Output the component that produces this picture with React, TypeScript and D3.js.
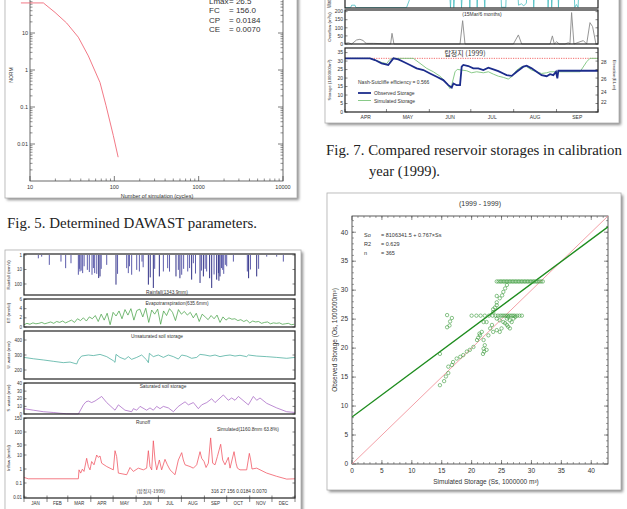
import React from 'react';
import * as d3 from 'd3';

const SANS = "'Liberation Sans', Arial, sans-serif";
const SERIF = "'Liberation Serif', 'DejaVu Serif', serif";
const KR = "'Noto Sans CJK KR', 'Liberation Sans', sans-serif";

// ---------------- Fig 5: DAWAST parameter search ----------------
const normCycles = [7.8, 14.4, 19.8, 27.2, 37.4, 49.2, 67.6, 79.8, 97.3, 111];
const normValues = [65, 65, 36, 18.6, 7.7, 2.4, 0.46, 0.108, 0.0168, 0.0044];
const paramNames = ['Lmax', 'FC', 'CP', 'CE'];
const paramValues = ['26.5', '156.0', '0.0184', '0.0070'];
const normXTicks = [10, 100, 1000, 10000];
const normYTicks = [100, 10, 1, 0.1, 0.01];
const normYLabels = [10, 1, 0.1, 0.01];

// ---------------- Fig 6: daily water balance 1999 ----------------
const monthNames = ['JAN', 'FEB', 'MAR', 'APR', 'MAY', 'JUN', 'JUL', 'AUG', 'SEP', 'OCT', 'NOV', 'DEC'];
const monthStarts = [0, 31, 59, 90, 120, 151, 181, 212, 243, 273, 304, 334, 365];

const rainDay = [19.3, 23.8, 34.1, 49.8, 56.1, 63.3, 73.2, 74.5, 75.4, 77, 79, 81, 85.3, 88, 91.6, 93.5, 95.2, 98, 100.6, 102.4, 104, 111.4, 123.9, 126, 138.3, 140.5, 142, 145, 151.8, 155.4, 158.9, 160.5, 167.5, 170, 174.2, 176, 182.3, 187.7, 193.5, 196, 204.7, 207.9, 210, 212.4, 215, 220.5, 223, 225.8, 228.1, 231, 237.1, 239, 241.6, 244, 246, 250, 252.8, 256, 259.5, 261.8, 262.5, 264, 266, 267.6, 269, 271.2, 273, 282, 300.8, 302.5, 305, 313.4, 316, 326.9, 340.3, 349.3];
const rainMm = [1.7, 1.3, 4.8, 2.85, 8.1, 3.7, 23, 9, 13.7, 12, 17.8, 6, 10.6, 15, 23, 8, 17.8, 20, 39, 30, 9, 4.8, 111, 20, 8.1, 17.8, 6, 23, 10.6, 13.7, 2.85, 7, 111, 35, 188, 9, 30, 13.7, 8.1, 14, 30, 10.6, 40, 23, 9, 13.7, 8, 50, 3.7, 19, 85, 12, 30, 9, 13.7, 40, 188, 22, 50, 17.8, 60, 30, 8, 10.6, 20, 4.8, 6, 2.85, 13.7, 40, 10, 30, 9, 1.3, 1.3, 2.85];

const etValues = [0.5, 0.8, 0.6, 0.9, 0.7, 0.8, 1.0, 0.7, 0.9, 1.1, 0.8, 1.2, 1.0, 1.3, 0.9, 1.2, 1.5, 1.0, 1.8, 1.4, 2.0, 1.3, 2.2, 1.8, 2.5, 1.2, 2.8, 1.5, 3.0, 0.5, 3.2, 2.4, 3.5, 1.8, 3.8, 2.6, 4.0, 1.5, 3.6, 3.9, 2.2, 4.1, 1.0, 3.7, 2.8, 3.9, 0.6, 3.5, 2.5, 4.0, 3.2, 1.4, 3.8, 2.8, 3.4, 2.6, 3.2, 2.0, 3.0, 1.2, 2.8, 2.2, 1.6, 2.5, 1.8, 2.6, 1.0, 2.2, 1.5, 2.0, 1.7, 1.8, 1.4, 1.6, 1.2, 1.5, 0.9, 1.3, 1.1, 1.2, 0.8, 1.0, 1.1, 0.7, 0.9, 0.8, 0.9, 0.6, 0.7, 0.8, 0.5, 0.6];

const unsatDay = [0, 12.6, 26, 39.5, 53, 62, 71, 73.2, 77.6, 86.7, 93.4, 102.4, 111.4, 120.3, 122.6, 123.9, 129.3, 136, 140.5, 145, 151.8, 158.5, 165.2, 167.5, 168.9, 174.2, 180.9, 187.7, 194.4, 201.2, 207.9, 212.4, 219.1, 225.8, 232.6, 237.1, 243.8, 250.6, 257.3, 264, 270.8, 277.5, 284.2, 290.9, 299.9, 302.2, 313.4, 326.9, 340.3, 353.8, 365];
const unsatVal = [284, 275, 267, 258, 249, 253, 240, 267, 293, 300, 296, 304, 289, 262, 251, 304, 284, 271, 289, 271, 284, 300, 267, 249, 311, 289, 300, 284, 300, 289, 273, 300, 293, 278, 284, 304, 300, 293, 300, 289, 296, 300, 293, 298, 289, 300, 293, 289, 284, 278, 284];

const satDay = [0, 12.6, 26, 39.5, 48.5, 57.5, 73.2, 80, 83.5, 86.7, 91.1, 95.6, 104.6, 111.4, 122.6, 127.1, 136, 145, 147.3, 151.8, 156.3, 165.2, 169.7, 174.2, 178.7, 183.2, 187.7, 194.4, 201.2, 207.9, 216.9, 221.4, 228.1, 234.8, 239.3, 246.1, 252.8, 257.3, 268.5, 275.2, 279.7, 284.2, 288.7, 302.2, 308.9, 313.4, 317.9, 326.9, 340.3, 353.8, 365];
const satVal = [7, 5, 3, 2, 1, 0.3, 0, 12, 16, 17, 15, 17, 23, 15, 5, 12, 5, 3, 7, 5, 10, 5, 8, 5, 10, 7, 10, 8, 3, 10, 16, 12, 15, 7, 12, 15, 20, 15, 25, 18, 21, 18, 23, 12, 23, 18, 21, 14, 8, 3, 2];

const runoffDay = [0, 5.8, 73.2, 74.1, 76.3, 78.6, 80.8, 84.4, 86.7, 88.9, 91.1, 94.3, 97.9, 100.1, 102.4, 104.6, 111.4, 120.3, 122.6, 124.8, 127.1, 138.3, 142.8, 147.3, 154, 160.7, 165.2, 167.5, 169.7, 172, 174.2, 176.5, 178.7, 182.3, 185.4, 189.9, 193.1, 196.7, 203.4, 207.9, 212.4, 214.6, 216.9, 223.6, 228.1, 232.6, 237.1, 239.3, 242.5, 245.2, 248.3, 251.4, 254.1, 257.3, 260.4, 264.9, 267.6, 270.7, 275.2, 277.5, 282.9, 285.6, 287.4, 290.9, 299.9, 303.5, 305.3, 307.1, 313.4, 326.9, 340.3, 353.8, 365];
const runoffVal = [0.25, 0.2, 0.2, 0.87, 0.51, 0.97, 0.67, 5.8, 1.5, 0.87, 3.4, 2.0, 10, 6.8, 8.5, 2.6, 1.5, 0.87, 20, 7.6, 0.51, 0.39, 1.28, 0.67, 1.15, 0.87, 1.15, 20, 1.5, 0.87, 62.6, 4.4, 0.87, 4.4, 0.87, 4.9, 2.0, 0.87, 0.39, 4.4, 14.6, 4.4, 2.0, 1.5, 1.15, 2.0, 17.1, 5.8, 3.4, 1.28, 2.6, 73, 2.6, 2.0, 7.6, 52, 4.4, 2.0, 6.8, 1.15, 17.1, 2.6, 1.15, 0.87, 0.87, 13, 4.4, 1.0, 1.15, 0.51, 0.3, 0.19, 0.2];

const rainTicks = [1, 10, 100];
const etTicks = [0, 2, 4, 6];
const unsatTicks = [200, 300, 400];
const satTicks = [0, 10, 20, 30, 40];
const runoffTicks = [0.01, 0.1, 1, 10, 50, 100, 150];

// ---------------- Fig 7: reservoir storage Apr–Sep 1999 ----------------
const resMonths = ['APR', 'MAY', 'JUN', 'JUL', 'AUG', 'SEP'];
const resMonthStarts = [0, 30, 61, 91, 122, 153, 183];

const levelDay = [0, 4.1, 4.8, 7.2, 7.9, 44.5, 48.2, 54.2, 74.6, 76.3, 77.8, 78.7, 80.7, 83.1, 84.3, 86, 89.1, 90.3, 91.5, 94.6, 95.6, 97, 99.4, 101.1, 102.3, 112, 113.2, 116.3, 117.3, 124, 125.5, 127.6, 129.3, 131.2, 132.4, 135.6, 136.5, 138, 145.7, 146.9, 148.6, 149.5, 151.2, 153.4, 154.4, 155.3, 165, 166.2, 167.4, 168.6, 169.8, 183];
const levelVal = [0.5, 0.5, 4, 4, 0.5, 0.5, 20, 60, 60, 0.5, 60, 0.5, 60, 60, 0.5, 60, 60, 0.5, 60, 60, 1, 60, 60, 1, 60, 60, 1, 1, 60, 60, 4, 6, 3, 7, 60, 60, 1, 60, 60, 1, 60, 1, 60, 60, 1, 60, 60, 1, 5, 1, 60, 60];

const overflowDay = [0, 2.4, 4.8, 8.4, 10.8, 13.3, 14.5, 15.7, 20.5, 33, 34, 35.4, 83.2, 85.1, 86.8, 121.8, 125.4, 127.8, 148.3, 150, 151.4, 153.1, 155, 159.1, 161.5, 162.7, 163.9, 165.6, 170, 172.4, 174.8, 177.2, 179.1, 181.5, 183];
const overflowVal = [4, 8, 0, 25, 29, 21, 8, 4, 4, 0, 66, 0, 0, 144, 0, 0, 56, 0, 0, 50, 0, 14, 0, 0, 8, 0, 194, 0, 14, 21, 0, 132, 107, 0, 0];

const obsDay = [0, 18.1, 21.7, 26.5, 31.3, 35, 38.6, 42.2, 47, 51.8, 56.7, 61.5, 66.3, 71.1, 74.7, 77.2, 78.4, 80.8, 83.2, 84.4, 85.6, 89.2, 92.8, 96.4, 100.1, 103.7, 107.3, 110.9, 114.5, 116.9, 120.6, 124.2, 129, 131.4, 135, 138.6, 142.2, 145.9, 148.3, 150.7, 152.6, 153.6, 154.3, 157.9, 183];
const obsStorage = [31.6, 31.6, 30.6, 28.7, 27.7, 31.6, 31.0, 29.6, 27.7, 25.7, 24.7, 22.7, 20.8, 18.8, 15.8, 14.4, 16.8, 15.8, 15.8, 26.7, 27.7, 27.1, 25.7, 25.7, 24.7, 26.1, 25.1, 24.1, 22.7, 21.7, 21.3, 23.7, 26.7, 27.3, 25.7, 23.7, 21.7, 21.1, 22.3, 21.7, 23.7, 19.8, 24.3, 24.3, 24.3];
const simDay = [0, 18.1, 21.7, 26.5, 30.1, 32.5, 35, 49.4, 54.2, 59.1, 63.9, 68.7, 73.5, 75.9, 77.2, 79.6, 81.2, 84.4, 88, 91.6, 95.2, 100.1, 103.7, 107.3, 110.9, 114.5, 118.1, 120.6, 124.2, 127.8, 131.4, 135, 138.6, 142.2, 145.9, 148.3, 170, 174.8, 177.2, 183];
const simStorage = [31.6, 31.6, 30.6, 29.2, 28.5, 31.0, 31.6, 31.6, 28.7, 25.7, 23.7, 21.1, 17.2, 13.8, 15.8, 23.7, 25.1, 24.7, 24.3, 23.1, 23.7, 23.1, 23.7, 22.3, 21.1, 20.4, 19.4, 20.8, 24.7, 26.7, 26.7, 24.7, 23.7, 22.7, 23.1, 23.7, 23.7, 29.6, 31.6, 31.6];
const fullStorage = 31.6;
const nashSutcliffe = '0.566';
const overflowTicks = [0, 50, 100, 150, 200];
const storageTicks = [0, 5, 10, 15, 20, 25, 30, 35];
const elevationTicks = [22, 24, 26, 28];

// ---------------- Fig 8: observed vs simulated storage ----------------
const ssValues = [
  24.2, 24.5, 24.8, 25.0, 25.3, 25.5, 25.8, 26.0, 26.3, 26.5, 26.8, 27.0, 27.3, 27.5, 27.8, 28.0, 28.3, 28.5, 28.8, 29.0, 29.3, 29.5, 29.8, 30.0, 30.3, 30.5, 30.8, 31.0, 31.3, 31.6, 31.9,
  20.0, 20.8, 21.5, 22.2, 22.9, 23.5, 24.0, 24.4, 24.8, 25.1, 25.4, 25.7, 26.0, 26.3, 26.6, 26.9, 27.2, 27.6, 28.0, 28.4,
  25.9, 25.6, 25.3, 25.1, 24.7, 24.2, 24.2, 23.9, 23.6, 23.6, 24.2,
  22.0, 22.5, 23.4, 23.1, 24.2, 24.7, 25.3, 25.6, 25.9, 26.1, 26.4, 25.9, 26.4, 27.0, 27.3, 26.7, 26.1, 25.0, 24.7, 24.2, 23.6, 22.8, 21.7, 21.4, 21.1, 20.9, 21.3, 22.0, 22.2, 22.0, 22.1, 21.9, 22.5, 20.3, 19.7, 19.2, 18.6, 18.1, 17.5, 16.9, 16.7, 16.1, 14.7,
  14.7, 15.4, 15.7, 16.1, 15.9, 16.7, 16.4, 15.9, 16.3
];
const soValues = [
  31.5, 31.5, 31.5, 31.5, 31.5, 31.5, 31.5, 31.5, 31.5, 31.5, 31.5, 31.5, 31.5, 31.5, 31.5, 31.5, 31.5, 31.5, 31.5, 31.5, 31.5, 31.5, 31.5, 31.5, 31.5, 31.5, 31.5, 31.5, 31.5, 31.5, 31.5,
  25.6, 25.6, 25.6, 25.6, 25.6, 25.6, 25.6, 25.6, 25.6, 25.6, 25.6, 25.6, 25.6, 25.6, 25.6, 25.6, 25.6, 25.6, 25.6, 25.6,
  30.9, 30.3, 29.7, 29.1, 28.6, 27.9, 27.4, 27.0, 26.7, 26.2, 29.0,
  24.5, 24.5, 24.0, 23.4, 25.1, 24.8, 24.5, 24.3, 24.0, 23.7, 23.4, 25.1, 24.8, 25.1, 25.4, 24.5, 25.4, 23.4, 22.8, 23.1, 22.8, 22.2, 22.8, 22.2, 21.8, 21.4, 22.5, 21.4, 20.5, 19.9, 19.4, 19.0, 19.7, 20.2, 19.7, 19.4, 18.8, 18.5, 18.2, 17.6, 17.1, 16.8, 19.0,
  13.6, 14.3, 15.1, 15.7, 25.7, 25.2, 24.6, 23.6, 23.9
];
const regIntercept = 8.1063415;
const regSlope = 0.767;
const scatterTicks = [0, 5, 10, 15, 20, 25, 30, 35, 40];

function Frame({ x, y, w, h }: { x: number; y: number; w: number; h: number }) {
  return (
    <g>
      <rect x={x + 2} y={y + 2} width={w} height={h} fill="#8c8c8c" filter="url(#shadowBlur)" />
      <rect x={x} y={y} width={w} height={h} fill="#fff" stroke="#b0b0b0" strokeWidth={0.8} />
    </g>
  );
}

function decadeMinors(lo: number, hi: number) {
  const out: number[] = [];
  for (let d = lo; d < hi; d *= 10) for (let k = 2; k <= 9; k++) out.push(d * k);
  return out;
}

function Fig5() {
  const x = d3.scaleLog().domain([10, 10000]).range([30, 283]);
  const y = d3.scaleLog().domain([0.001, 100]).range([181, -4]);
  const line = d3.line<number>().x((_, i) => x(normCycles[i])).y((d) => y(d));
  const xMinor = decadeMinors(10, 10000);
  const yMinor = decadeMinors(0.001, 100);
  return (
    <g>
      <Frame x={5} y={-10} w={292} h={208} />
      <rect x={30} y={-4} width={253} height={185} fill="none" stroke="#444" strokeWidth={0.8} />
      {normXTicks.map((t) => (
        <g key={'x' + t}>
          <line x1={x(t)} x2={x(t)} y1={181} y2={176} stroke="#444" strokeWidth={0.7} />
          <text x={x(t)} y={189} fontSize={5.5} fontFamily={SANS} textAnchor="middle" fill="#333">{t}</text>
        </g>
      ))}
      {xMinor.map((t) => (
        <line key={'xm' + t} x1={x(t)} x2={x(t)} y1={181} y2={178.5} stroke="#444" strokeWidth={0.6} />
      ))}
      {normYTicks.map((t) => (
        <g key={'y' + t}>
          <line x1={30} x2={35} y1={y(t)} y2={y(t)} stroke="#444" strokeWidth={0.7} />
          <line x1={283} x2={278} y1={y(t)} y2={y(t)} stroke="#444" strokeWidth={0.7} />
        </g>
      ))}
      {normYLabels.map((t) => (
        <text key={'yl' + t} x={28} y={y(t) + 2} fontSize={5.5} fontFamily={SANS} textAnchor="end" fill="#333">{t}</text>
      ))}
      {yMinor.map((t) => (
        <g key={'ym' + t}>
          <line x1={30} x2={32.5} y1={y(t)} y2={y(t)} stroke="#444" strokeWidth={0.6} />
          <line x1={283} x2={280.5} y1={y(t)} y2={y(t)} stroke="#444" strokeWidth={0.6} />
        </g>
      ))}
      <text x={157} y={198} fontSize={5.5} fontFamily={SANS} textAnchor="middle" fill="#333">Number of simulation (cycles)</text>
      <text transform="translate(13,75) rotate(-90)" fontSize={5} fontFamily={SANS} textAnchor="middle" fill="#333">NORM</text>
      <path d={line(normValues) || ''} fill="none" stroke="#f06a78" strokeWidth={0.9} />
      {paramNames.map((n, i) => (
        <g key={n}>
          <text x={209} y={4 + i * 9.3} fontSize={8} fontFamily={SANS} fill="#333">{n}</text>
          <text x={229} y={4 + i * 9.3} fontSize={8} fontFamily={SANS} fill="#333">{'= ' + paramValues[i]}</text>
        </g>
      ))}
    </g>
  );
}

function PanelBox({ x0, x1, y0, y1 }: any) {
  return <rect x={x0} y={y0} width={x1 - x0} height={y1 - y0} fill="none" stroke="#222" strokeWidth={1.2} />;
}

function YTicks({ scale, ticks, x0, x1, fs, fmt }: any) {
  return (
    <g>
      {ticks.map((t: number) => (
        <g key={t}>
          <line x1={x0} x2={x0 + 2.5} y1={scale(t)} y2={scale(t)} stroke="#333" strokeWidth={0.6} />
          <line x1={x1} x2={x1 - 2.5} y1={scale(t)} y2={scale(t)} stroke="#333" strokeWidth={0.6} />
          <text x={x0 - 2} y={scale(t) + fs * 0.35} fontSize={fs} fontFamily={SANS} textAnchor="end" fill="#333">{fmt ? fmt(t) : t}</text>
        </g>
      ))}
    </g>
  );
}

function Fig6() {
  const x0 = 24, x1 = 295;
  const x = d3.scaleLinear().domain([0, 365]).range([x0, x1]);
  const rainY = d3.scaleLog().domain([1, 575]).range([255, 295]);
  const etY = d3.scaleLinear().domain([0, 6]).range([327, 299.5]);
  const unY = d3.scaleLinear().domain([140, 460]).range([379, 331]);
  const satY = d3.scaleLinear().domain([0, 40]).range([414, 383.5]);
  const roY = d3.scaleLog().domain([0.01, 0.1, 1, 10, 50, 100, 150]).range([497, 483, 469, 455, 445, 432, 418.5]);
  const etLine = d3.line<number>().x((_, i) => x(i * 4)).y((d) => etY(d));
  const unLine = d3.line<number>().x((_, i) => x(unsatDay[i])).y((d) => unY(d));
  const satLine = d3.line<number>().x((_, i) => x(satDay[i])).y((d) => satY(d));
  const roLine = d3.line<number>().x((_, i) => x(runoffDay[i])).y((d) => roY(d));
  const fs = 4.5;
  const title = (t: string, cy: number) => (
    <text transform={`translate(10,${cy}) rotate(-90)`} fontSize={4.3} fontFamily={SANS} textAnchor="middle" fill="#333">{t}</text>
  );
  const cap = (t: string, cx: number, cy: number) => (
    <text x={cx} y={cy} fontSize={4.8} fontFamily={SANS} textAnchor="middle" fill="#333">{t}</text>
  );
  return (
    <g>
      <Frame x={5} y={250} w={296} h={270} />
      {rainDay.map((d, i) => (
        <line key={'r' + i} x1={x(d)} x2={x(d)} y1={rainY(1)} y2={rainY(rainMm[i])} stroke={rainMm[i] > 25 ? '#1a1a78' : '#4a4aa2'} strokeWidth={0.9} />
      ))}
      <PanelBox x0={x0} x1={x1} y0={254} y1={295} />
      <YTicks scale={rainY} ticks={rainTicks} x0={x0} x1={x1} fs={fs} />
      {title('Rainfall (mm/d)', 275)}
      {cap('Rainfall(1343.9mm)', 167, 294)}
      <path d={etLine(etValues) || ''} fill="none" stroke="#3c9c3c" strokeWidth={0.7} />
      <PanelBox x0={x0} x1={x1} y0={299} y1={327} />
      <YTicks scale={etY} ticks={etTicks} x0={x0} x1={x1} fs={fs} />
      {title('ET (mm/d)', 313)}
      {cap('Evapotranspiration(635.6mm)', 177, 305)}
      <path d={unLine(unsatVal) || ''} fill="none" stroke="#3aa594" strokeWidth={0.7} />
      <PanelBox x0={x0} x1={x1} y0={331} y1={379} />
      <YTicks scale={unY} ticks={unsatTicks} x0={x0} x1={x1} fs={fs} />
      {title('U. water (mm)', 355)}
      {cap('Unsaturated soil storage', 157, 338)}
      <path d={satLine(satVal) || ''} fill="none" stroke="#a05cc0" strokeWidth={0.7} />
      <PanelBox x0={x0} x1={x1} y0={383} y1={414} />
      <YTicks scale={satY} ticks={satTicks} x0={x0} x1={x1} fs={fs} />
      {title('S. water (mm)', 398)}
      {cap('Saturated soil storage', 163, 388)}
      <path d={roLine(runoffVal) || ''} fill="none" stroke="#f0505e" strokeWidth={0.75} />
      <PanelBox x0={x0} x1={x1} y0={418} y1={498} />
      <YTicks scale={roY} ticks={runoffTicks} x0={x0} x1={x1} fs={fs} />
      {title('Inflow (mm/d)', 458)}
      {cap('Runoff', 143, 424)}
      {cap('Simulated(1160.8mm 63.8%)', 248, 431)}
      <text x={151} y={493} fontSize={4.8} fontFamily={KR} textAnchor="middle" fill="#333">(탑정지-1999)</text>
      {cap('316  27  156  0.0184  0.0070', 239, 493)}
      {monthStarts.map((m) => (
        <g key={'mt' + m}>
          <line x1={x(m)} x2={x(m)} y1={498} y2={502} stroke="#333" strokeWidth={0.6} />
          <line x1={x(m)} x2={x(m)} y1={498} y2={495.5} stroke="#333" strokeWidth={0.6} />
        </g>
      ))}
      {monthNames.map((n, i) => (
        <text key={n} x={x((monthStarts[i] + monthStarts[i + 1]) / 2)} y={505} fontSize={4.5} fontFamily={SANS} textAnchor="middle" fill="#333">{n}</text>
      ))}
    </g>
  );
}

function Fig7() {
  const x0 = 345, x1 = 598;
  const x = d3.scaleLinear().domain([0, 183]).range([x0, x1]);
  const lvY = d3.scaleLinear().domain([0, 40]).range([8, -20]);
  const ofY = d3.scaleLinear().domain([0, 210]).range([44, 10]);
  const stY = d3.scaleLinear().domain([0, 37.7]).range([112, 48]);
  const elY = d3.scaleLinear().domain([22, 24, 26, 28]).range([102, 92, 79, 62]);
  const lvLine = d3.line<number>().x((_, i) => x(levelDay[i])).y((d) => lvY(d));
  const ofLine = d3.line<number>().x((_, i) => x(overflowDay[i])).y((d) => ofY(d));
  const obsLine = d3.line<number>().x((_, i) => x(obsDay[i])).y((d) => stY(d));
  const simLine = d3.line<number>().x((_, i) => x(simDay[i])).y((d) => stY(d));
  const fs = 5;
  return (
    <g>
      <Frame x={325} y={-10} w={294} h={133} />
      <clipPath id="lvClip"><rect x={x0} y={-20} width={x1 - x0} height={28} /></clipPath>
      <path d={lvLine(levelVal) || ''} fill="none" stroke="#48bcc0" strokeWidth={0.8} clipPath="url(#lvClip)" />
      <PanelBox x0={x0} x1={x1} y0={-20} y1={8} />
      <text transform="translate(331,8) rotate(-90)" fontSize={4.5} fontFamily={SANS} fill="#333">Water level (EL.m)</text>
      <path d={ofLine(overflowVal) || ''} fill="none" stroke="#8a8a8a" strokeWidth={0.9} />
      <PanelBox x0={x0} x1={x1} y0={10} y1={44} />
      <YTicks scale={ofY} ticks={overflowTicks} x0={x0} x1={x1} fs={fs} />
      <text transform="translate(331,27) rotate(-90)" fontSize={4.3} fontFamily={SANS} textAnchor="middle" fill="#333">Overflow (m³/s)</text>
      <text x={482} y={16} fontSize={5} fontFamily={SANS} textAnchor="middle" fill="#333">(15Mar/6 months)</text>
      <line x1={x0} x2={x1} y1={stY(fullStorage)} y2={stY(fullStorage)} stroke="#f04848" strokeWidth={0.8} strokeDasharray="1.2,1.2" />
      <path d={simLine(simStorage) || ''} fill="none" stroke="#7cc47c" strokeWidth={0.9} />
      <path d={obsLine(obsStorage) || ''} fill="none" stroke="#1c2c8c" strokeWidth={1.8} />
      <PanelBox x0={x0} x1={x1} y0={48} y1={112} />
      <YTicks scale={stY} ticks={storageTicks} x0={x0} x1={x1} fs={fs} />
      {elevationTicks.map((t) => (
        <text key={'el' + t} x={601} y={elY(t) + 1.8} fontSize={fs} fontFamily={SANS} fill="#333">{t}</text>
      ))}
      <text transform="translate(331,80) rotate(-90)" fontSize={4.3} fontFamily={SANS} textAnchor="middle" fill="#333">Storage (1000000m³)</text>
      <text transform="translate(613,75) rotate(90)" fontSize={4.3} fontFamily={SANS} textAnchor="middle" fill="#333">Elevation(EL.m)</text>
      <text x={465} y={56} fontSize={7} fontFamily={KR} textAnchor="middle" fill="#333">탑정지 (1999)</text>
      <text x={358} y={84} fontSize={5} fontFamily={SANS} fill="#333">{'Nash-Sutcliffe efficiency = ' + nashSutcliffe}</text>
      <line x1={358} x2={371} y1={93} y2={93} stroke="#1c2c8c" strokeWidth={1.8} />
      <text x={374} y={95} fontSize={5} fontFamily={SANS} fill="#333">Observed Storage</text>
      <line x1={358} x2={371} y1={100.5} y2={100.5} stroke="#7cc47c" strokeWidth={0.9} />
      <text x={374} y={102.5} fontSize={5} fontFamily={SANS} fill="#333">Simulated Storage</text>
      {resMonthStarts.map((m) => (
        <line key={'rm' + m} x1={x(m)} x2={x(m)} y1={112} y2={109} stroke="#333" strokeWidth={0.6} />
      ))}
      {resMonths.map((n, i) => (
        <text key={n} x={x((resMonthStarts[i] + resMonthStarts[i + 1]) / 2)} y={119} fontSize={5} fontFamily={SANS} textAnchor="middle" fill="#333">{n}</text>
      ))}
    </g>
  );
}

function Fig8() {
  const px0 = 352, px1 = 608, py0 = 216, py1 = 464;
  const x = d3.scaleLinear().domain([0, 42.8]).range([px0, px1]);
  const y = d3.scaleLinear().domain([0, 42.8]).range([py1, py0]);
  const minor = d3.range(1, 43);
  const fs = 6.5;
  return (
    <g>
      <Frame x={327} y={193} w={294} h={297} />
      <text x={480} y={206} fontSize={7} fontFamily={SANS} textAnchor="middle" fill="#333">(1999 - 1999)</text>
      <clipPath id="scClip"><rect x={px0} y={py0} width={px1 - px0} height={py1 - py0} /></clipPath>
      <rect x={px0} y={py0} width={px1 - px0} height={py1 - py0} fill="none" stroke="#333" strokeWidth={0.8} />
      {minor.map((t) => (
        <g key={'mn' + t}>
          <line x1={x(t)} x2={x(t)} y1={py1} y2={py1 - 2} stroke="#444" strokeWidth={0.5} />
          <line x1={x(t)} x2={x(t)} y1={py0} y2={py0 + 2} stroke="#444" strokeWidth={0.5} />
          <line x1={px0} x2={px0 + 2} y1={y(t)} y2={y(t)} stroke="#444" strokeWidth={0.5} />
          <line x1={px1} x2={px1 - 2} y1={y(t)} y2={y(t)} stroke="#444" strokeWidth={0.5} />
        </g>
      ))}
      {scatterTicks.map((t) => (
        <g key={'mj' + t}>
          <line x1={x(t)} x2={x(t)} y1={py1} y2={py1 - 4} stroke="#444" strokeWidth={0.6} />
          <line x1={x(t)} x2={x(t)} y1={py0} y2={py0 + 4} stroke="#444" strokeWidth={0.6} />
          <line x1={px0} x2={px0 + 4} y1={y(t)} y2={y(t)} stroke="#444" strokeWidth={0.6} />
          <line x1={px1} x2={px1 - 4} y1={y(t)} y2={y(t)} stroke="#444" strokeWidth={0.6} />
          <text x={x(t)} y={py1 + 9} fontSize={fs} fontFamily={SANS} textAnchor="middle" fill="#333">{t}</text>
          <text x={px0 - 4} y={y(t) + 2.3} fontSize={fs} fontFamily={SANS} textAnchor="end" fill="#333">{t}</text>
        </g>
      ))}
      <g clipPath="url(#scClip)">
        <line x1={x(0)} y1={y(0)} x2={x(42.8)} y2={y(42.8)} stroke="#f08890" strokeWidth={0.8} />
        <line x1={x(0)} y1={y(regIntercept)} x2={x(42.8)} y2={y(regIntercept + regSlope * 42.8)} stroke="#1e8c1e" strokeWidth={1.4} />
        {ssValues.map((s, i) => (
          <circle key={'p' + i} cx={x(s)} cy={y(soValues[i])} r={1.7} fill="none" stroke="#3a9a3a" strokeWidth={0.6} />
        ))}
      </g>
      <text x={364} y={237} fontSize={5.5} fontFamily={SANS} fill="#333">So</text>
      <text x={381} y={237} fontSize={5.5} fontFamily={SANS} fill="#333">{'= 8106341.5 + 0.767×Ss'}</text>
      <text x={364} y={246} fontSize={5.5} fontFamily={SANS} fill="#333">R2</text>
      <text x={381} y={246} fontSize={5.5} fontFamily={SANS} fill="#333">= 0.629</text>
      <text x={364} y={255} fontSize={5.5} fontFamily={SANS} fill="#333">n</text>
      <text x={381} y={255} fontSize={5.5} fontFamily={SANS} fill="#333">= 365</text>
      <text x={486} y={484} fontSize={6.5} fontFamily={SANS} textAnchor="middle" fill="#333">Simulated Storage (Ss, 1000000 m³)</text>
      <text transform="translate(337,340) rotate(-90)" fontSize={6.5} fontFamily={SANS} textAnchor="middle" fill="#333">Observed Storage (Os, 1000000m³)</text>
    </g>
  );
}

export default function App() {
  return (
    <svg width={627} height={509} style={{ position: 'absolute', left: 0, top: 0, background: '#fff' }}>
      <defs>
        <filter id="shadowBlur" x="-5%" y="-5%" width="110%" height="110%">
          <feGaussianBlur stdDeviation={1.5} />
        </filter>
      </defs>
      <rect x={0} y={0} width={627} height={509} fill="#fff" />
      <Fig5 />
      <text x={7} y={228} fontSize={15} fontFamily={SERIF} fill="#222" textLength={250} lengthAdjust="spacingAndGlyphs">Fig. 5. Determined DAWAST parameters.</text>
      <Fig6 />
      <Fig7 />
      <text x={326} y={155} fontSize={15} fontFamily={SERIF} fill="#222" textLength={296} lengthAdjust="spacingAndGlyphs">Fig. 7. Compared reservoir storages in calibration</text>
      <text x={369} y={176} fontSize={15} fontFamily={SERIF} fill="#222" textLength={71} lengthAdjust="spacingAndGlyphs">year (1999).</text>
      <Fig8 />
    </svg>
  );
}
